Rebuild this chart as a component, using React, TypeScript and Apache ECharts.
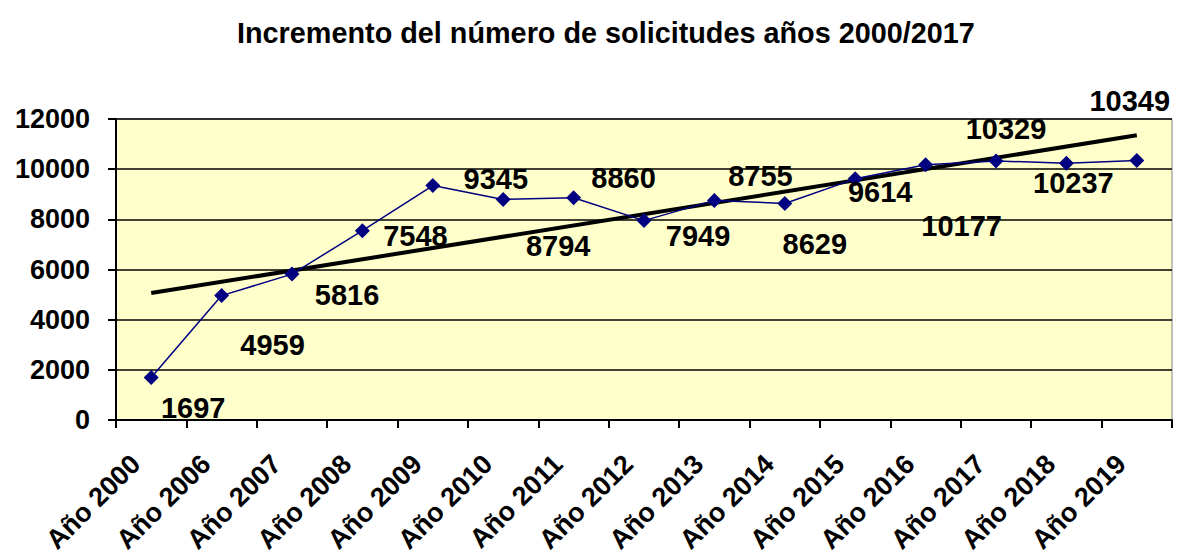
import React, { useEffect, useRef } from "react";
import * as echarts from "echarts";

const categories = [
  "Año 2000", "Año 2006", "Año 2007", "Año 2008", "Año 2009", "Año 2010", "Año 2011",
  "Año 2012", "Año 2013", "Año 2014", "Año 2015", "Año 2016", "Año 2017", "Año 2018", "Año 2019",
];
const values = [1697, 4959, 5816, 7548, 9345, 8794, 8860, 7949, 8755, 8629, 9614, 10177, 10329, 10237, 10349];
// Linear trendline end values (first and last category)
const trendStart = 5060;
const trendEnd = 11350;
const yTicks = { min: 0, max: 12000, interval: 2000 };
const titleText = "Incremento del número de solicitudes años 2000/2017";

// Label placement offsets (layout only)
const labelOffsets: [number, number][] = [
  [42, 31], [51, 49], [55, 21], [53, 5], [63, -7], [55, 47], [50, -20], [54, 15],
  [46, -24], [30, 40], [25, 13], [36, 61], [10, -32], [7, 20], [-7, -59],
];

const FONT = "'Liberation Sans', Arial, sans-serif";

export default function App() {
  const ref = useRef<HTMLDivElement>(null);
  useEffect(() => {
    if (!ref.current) return;
    const chart = echarts.init(ref.current, null, { renderer: "svg" });
    const trendData = categories.map((_, i) =>
      i === 0 ? trendStart : i === categories.length - 1 ? trendEnd : null
    );
    chart.setOption({
      animation: false,
      backgroundColor: "#ffffff",
      title: {
        text: titleText,
        left: 232,
        top: 13,
        textStyle: { fontFamily: FONT, fontWeight: "bold", fontSize: 28.8, color: "#000" },
      },
      grid: {
        left: 116,
        right: 5,
        top: 119,
        bottom: 140,
        show: true,
        containLabel: false,
        outerBoundsMode: "none",
        backgroundColor: "#FFFFCC",
        borderColor: "#808080",
        borderWidth: 1,
      },
      xAxis: {
        type: "category",
        data: categories,
        boundaryGap: true,
        axisLine: { lineStyle: { color: "#000", width: 2 } },
        axisTick: { show: true, length: 8, lineStyle: { color: "#000", width: 2 }, alignWithLabel: false },
        axisLabel: {
          rotate: 45,
          margin: 24,
          interval: 0,
          padding: [0, 22, 0, 0],
          fontFamily: FONT,
          fontWeight: "bold",
          fontSize: 27,
          color: "#000",
        },
        splitLine: { show: false },
      },
      yAxis: {
        type: "value",
        min: yTicks.min,
        max: yTicks.max,
        interval: yTicks.interval,
        axisLine: { show: true, lineStyle: { color: "#000", width: 2 } },
        axisTick: { show: true, length: 8, lineStyle: { color: "#000", width: 2 } },
        axisLabel: {
          margin: 26,
          formatter: (v: number) => String(v),
          fontFamily: FONT,
          fontWeight: "bold",
          fontSize: 27,
          color: "#000",
        },
        splitLine: { show: true, lineStyle: { color: "#000", width: 1.5 } },
      },
      series: [
        {
          type: "line",
          data: trendData,
          connectNulls: true,
          symbol: "none",
          lineStyle: { color: "#000", width: 4 },
          z: 3,
          silent: true,
        },
        {
          type: "line",
          data: values.map((v, i) => ({
            value: v,
            label: { offset: labelOffsets[i] },
          })),
          symbol: "diamond",
          symbolSize: 15,
          itemStyle: { color: "#000080" },
          lineStyle: { color: "#000080", width: 1.5 },
          z: 4,
          label: {
            show: true,
            position: "inside",
            fontFamily: FONT,
            fontWeight: "bold",
            fontSize: 29,
            color: "#000",
          },
        },
      ],
    });
    return () => chart.dispose();
  }, []);
  return (
    <div
      ref={ref}
      style={{ position: "fixed", left: 0, top: 0, width: 1177, height: 560 }}
    />
  );
}
